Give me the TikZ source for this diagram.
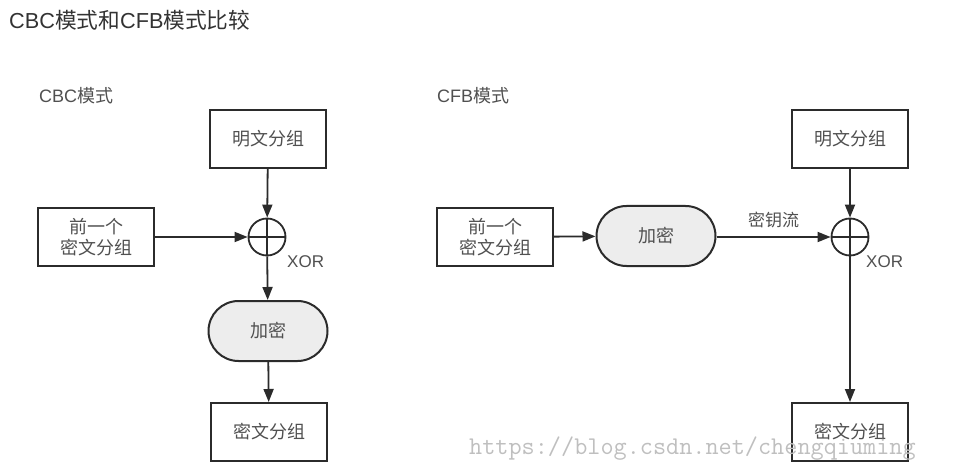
\documentclass[tikz,border=0pt]{standalone}
\usepackage{fontspec}
\setmainfont{Noto Sans CJK SC}
\newfontfamily\lat{Liberation Sans}
\usetikzlibrary{arrows.meta,shapes.misc}
\definecolor{ln}{HTML}{2B2B2B}
\definecolor{tx}{HTML}{505050}
\definecolor{ttl}{HTML}{333333}
\definecolor{encfill}{HTML}{EDEDED}
\tikzset{
  blockbox/.style={draw=ln, line width=2pt, minimum width=116pt, minimum height=58pt, inner sep=0pt, text=tx, font=\fontsize{18}{21}\selectfont, align=center},
  encbox/.style={rounded rectangle, draw=ln, line width=2pt, fill=encfill, minimum width=119pt, minimum height=60pt, inner sep=0pt, text=tx, font=\fontsize{18}{21}\selectfont},
  xorc/.style={circle, draw=ln, line width=1.8pt, minimum size=37pt, inner sep=0pt},
  conn/.style={draw=ln, line width=1.8pt, -{Triangle[length=13pt,width=10pt]}},
  plain/.style={draw=ln, line width=1.8pt},
  lbl/.style={text=tx, font=\fontsize{17}{20}\selectfont, inner sep=0pt},
  hdr/.style={text=tx, font=\fontsize{18}{21}\selectfont, inner sep=0pt, anchor=west},
}
\begin{document}
\begin{tikzpicture}[x=1pt,y=-1pt]
\useasboundingbox (0,0) rectangle (970,476);
\node[anchor=west, text=ttl, font=\fontsize{21.7}{24}\selectfont, inner sep=0pt] (title) at (9,20) {{\lat CBC}模式和{\lat CFB}模式比较};
% CBC
\node[hdr] (cbchdr) at (39,96) {{\lat CBC}模式};
\node[blockbox] (p1) at (268,139) {明文分组};
\node[blockbox] (prev1) at (96,237) {前一个\\密文分组};
\node[xorc] (x1) at (267,237) {};
\draw[plain] (x1.north) -- (x1.south) (x1.west) -- (x1.east);
\node[lbl, anchor=west, font=\lat\fontsize{17}{20}\selectfont] (xl1) at (287,262) {XOR};
\node[encbox] (e1) at (268,331) {加密};
\node[blockbox] (c1) at (269,432) {密文分组};
\draw[conn] (p1) -- (x1);
\draw[conn] (prev1) -- (x1);
\draw[conn] (x1) -- (e1);
\draw[conn] (e1) -- (c1);
% CFB
\node[hdr] (cfbhdr) at (437,96) {{\lat CFB}模式};
\node[blockbox] (p2) at (850,139) {明文分组};
\node[blockbox] (prev2) at (495,237) {前一个\\密文分组};
\node[encbox] (e2) at (656,236) {加密};
\node[xorc] (x2) at (850,237) {};
\draw[plain] (x2.north) -- (x2.south) (x2.west) -- (x2.east);
\node[lbl, anchor=west, font=\lat\fontsize{17}{20}\selectfont] (xl2) at (866,262) {XOR};
\node[blockbox] (c2) at (850,432) {密文分组};
\draw[conn] (prev2) -- (e2);
\draw[conn] (e2.east |- x2) -- node[lbl, above=8pt] (ks) {密钥流} (x2);
\draw[conn] (p2) -- (x2);
\draw[conn] (x2) -- (c2);
% watermark
\node[anchor=west, text=black!25, font=\ttfamily\fontsize{25.5}{25.5}\selectfont, inner sep=0pt] (wm) at (469,449) {https://blog.csdn.net/chengqiuming};
\end{tikzpicture}
\end{document}
